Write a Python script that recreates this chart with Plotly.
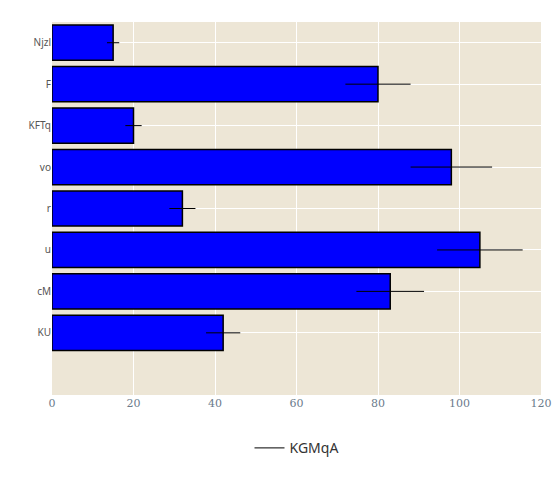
import plotly.graph_objects as go

categories = ["KU", "cM", "u", "r", "vo", "KFTq", "F", "Njzl"]
values = [42, 83, 105, 32, 98, 20, 80, 15]
errors = [4.2, 8.3, 10.5, 3.2, 10, 2, 8, 1.5]

fig = go.Figure()
fig.add_trace(go.Bar(x=values, y=categories, orientation="h", showlegend=False,
                     marker=dict(color="blue", line=dict(color="black", width=1.5)),
                     error_x=dict(type="data", array=errors, color="black", thickness=1, width=0),
                     width=0.85))
fig.add_trace(go.Scatter(x=[None], y=[None], mode="lines", name="KGMqA",
                         line=dict(color="black", width=1)))

fig.update_layout(width=560, height=480, paper_bgcolor="white", plot_bgcolor="#ede6d6",
                  margin=dict(l=44, r=27, t=14, b=93, autoexpand=False),
                  font=dict(family="DejaVu Serif", size=11, color="#555"),
                  legend=dict(orientation="h", x=0.5, xanchor="center", y=-0.1,
                              font=dict(family="Noto Sans", size=14, color="#333")))
fig.update_xaxes(range=[0, 120], dtick=20, gridcolor="white", showline=False, zeroline=False,
                 automargin=False, tickfont=dict(color="#6b7b8c"))
fig.update_yaxes(categoryorder="array", categoryarray=categories, range=[-1.5, 7.5],
                 automargin=False, gridcolor="white",
                 tickfont=dict(family="Noto Sans", size=10, color="#555"))
fig.write_html("out.html")
